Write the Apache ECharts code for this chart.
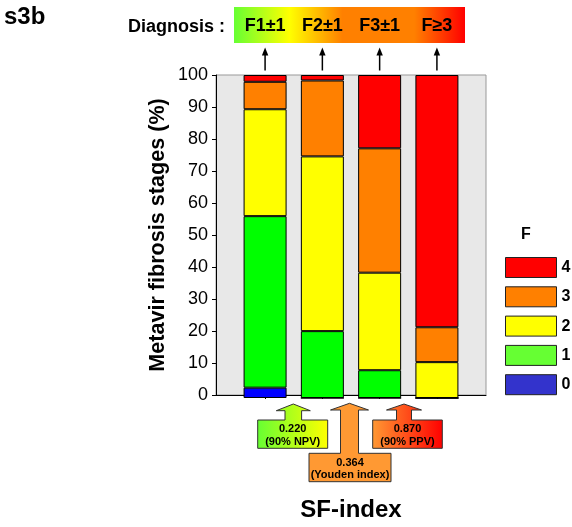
<!DOCTYPE html>
<html><head><meta charset="utf-8">
<script src="https://cdn.jsdelivr.net/npm/echarts@6/dist/echarts.min.js"></script>
<style>html,body{margin:0;padding:0;background:#fff}#c{width:572px;height:527px}</style>
</head><body><div id="c"></div>
<script>
// ---- data ----
const positions = [1, 2, 3, 4];
const diagnosis = ['F1±1', 'F2±1', 'F3±1', 'F≥3'];
const stageNames = ['0', '1', '2', '3', '4'];
const f0 = [3.2, 0, 0, 0];
const f1 = [53.1, 20.7, 8.6, 0];
const f2 = [33.1, 54.1, 30.2, 11.1];
const f3 = [8.5, 23.5, 38.5, 10.8];
const f4 = [2.1, 1.7, 22.7, 78.1];
const cutoffValues = ['0.220', '0.364', '0.870'];
const cutoffNotes = ['(90% NPV)', '(Youden index)', '(90% PPV)'];

const FONT = 'Liberation Sans, Arial, sans-serif';
const stageData = [f0, f1, f2, f3, f4];
const barColors = ['#0000FF', '#00FF00', '#FFFF00', '#FF8000', '#FF0000'];
const legendColors = ['#3333CC', '#66FF33', '#FFFF00', '#FF8000', '#FF0000'];

const chart = echarts.init(document.getElementById('c'), null, {renderer: 'canvas'});

// frame grid (gray panel, axes) spans x 216..486; bar grid is the inner band region
const xMin = 0.143, xMax = 4.857;
const frameLeft = 216, frameWidth = 270;
const unit = frameWidth / (xMax - xMin);
const barLeft = frameLeft + (positions[0] - 0.5 - xMin) * unit;
const barWidthPx = positions.length * unit;

const series = stageNames.map((n, k) => ({
  name: n, type: 'bar', stack: 'total', barWidth: 43,
  xAxisIndex: 1, yAxisIndex: 1,
  data: stageData[k],
  itemStyle: {color: barColors[k], borderColor: '#000', borderWidth: 1},
  emphasis: {disabled: true}, animation: false
}));

chart.setOption({
  animation: false,
  grid: [
    {left: frameLeft, top: 75, width: frameWidth, height: 323, show: true,
     backgroundColor: '#E8E8E8', borderColor: '#999', borderWidth: 1},
    {left: barLeft, top: 75, width: barWidthPx, height: 323}
  ],
  xAxis: [
    {type: 'value', gridIndex: 0, min: xMin, max: xMax,
     name: 'SF-index', nameLocation: 'middle', nameGap: 103,
     nameTextStyle: {fontFamily: FONT, fontWeight: 'bold', fontSize: 24, color: '#000'},
     axisLine: {show: true, lineStyle: {color: '#000', width: 1}},
     axisTick: {show: true, length: 4, customValues: positions, lineStyle: {color: '#000'}},
     axisLabel: {show: false}, splitLine: {show: false}},
    {type: 'category', gridIndex: 1, data: positions.map(String), boundaryGap: true,
     axisLine: {show: false}, axisTick: {show: false}, axisLabel: {show: false}, splitLine: {show: false}}
  ],
  yAxis: [
    {type: 'value', gridIndex: 0, min: 0, max: 100, interval: 10,
     name: 'Metavir fibrosis stages (%)', nameLocation: 'middle', nameGap: 47,
     nameTextStyle: {fontFamily: FONT, fontWeight: 'bold', fontSize: 21.6, color: '#000'},
     axisLine: {show: true, lineStyle: {color: '#000', width: 1}},
     axisTick: {show: true, length: 4, lineStyle: {color: '#000'}},
     axisLabel: {fontFamily: FONT, fontSize: 18, color: '#000', margin: 8},
     splitLine: {show: false}},
    {type: 'value', gridIndex: 1, min: 0, max: 100, show: false, splitLine: {show: false}}
  ],
  legend: {orient: 'vertical', left: 505, top: 257, padding: 0, itemWidth: 51, itemHeight: 20, itemGap: 8.3,
    icon: 'rect', selectedMode: false,
    textStyle: {fontFamily: FONT, fontWeight: 'bold', fontSize: 16, color: '#000'},
    data: [4, 3, 2, 1, 0].map(k => ({name: stageNames[k],
      itemStyle: {color: legendColors[k], borderColor: '#222', borderWidth: 1}}))},
  series: series
});

// ---- decorations ----
const centers = positions.map(p => chart.convertToPixel({xAxisIndex: 0}, p));
const g = [];
g.push({type: 'text', left: 4, top: 5, style: {text: 's3b', font: 'bold 24px ' + FONT, fill: '#000'}});
g.push({type: 'text', x: 225, y: 27, style: {text: 'Diagnosis :', font: 'bold 18px ' + FONT, fill: '#000', align: 'right', verticalAlign: 'middle'}});
g.push({type: 'rect', shape: {x: 234, y: 7, width: 231, height: 36},
  style: {fill: new echarts.graphic.LinearGradient(0, 0, 1, 0, [
    {offset: 0, color: '#66FF33'}, {offset: 0.24, color: '#FFFF00'},
    {offset: 0.47, color: '#FF8000'}, {offset: 0.78, color: '#FF8000'}, {offset: 1, color: '#FF0000'}])}});
centers.forEach((cx, i) => {
  g.push({type: 'text', x: cx, y: 26, style: {text: diagnosis[i], font: 'bold 18px ' + FONT, fill: '#000', align: 'center', verticalAlign: 'middle'}});
  g.push({type: 'line', shape: {x1: cx, y1: 54, x2: cx, y2: 70.5}, style: {stroke: '#000', lineWidth: 1.5}});
  g.push({type: 'polygon', shape: {points: [[cx, 47.5], [cx - 3.2, 55.5], [cx + 3.2, 55.5]]}, style: {fill: '#000'}});
});
g.push({type: 'text', x: 526, y: 235, style: {text: 'F', font: 'bold 16px ' + FONT, fill: '#000', align: 'center', verticalAlign: 'middle'}});

function callout(tip, headHalf, shaftHalf, headBaseY, boxL, boxR, boxT, boxB, fill, i) {
  const pts = [[boxL, boxT], [tip[0] - shaftHalf, boxT], [tip[0] - shaftHalf, headBaseY], [tip[0] - headHalf, headBaseY],
    tip, [tip[0] + headHalf, headBaseY], [tip[0] + shaftHalf, headBaseY], [tip[0] + shaftHalf, boxT],
    [boxR, boxT], [boxR, boxB], [boxL, boxB]];
  g.push({type: 'polygon', shape: {points: pts}, style: {fill: fill, stroke: '#333', lineWidth: 1}});
  const cx = (boxL + boxR) / 2, h = boxB - boxT;
  g.push({type: 'text', x: cx, y: boxT + h * 0.33, style: {text: cutoffValues[i], font: 'bold 11px ' + FONT, fill: '#000', align: 'center', verticalAlign: 'middle'}});
  g.push({type: 'text', x: cx, y: boxT + h * 0.76, style: {text: cutoffNotes[i], font: 'bold 11px ' + FONT, fill: '#000', align: 'center', verticalAlign: 'middle'}});
}
callout([293.3, 404], 17, 8.3, 410.7, 257.7, 327.7, 420, 448.3,
  new echarts.graphic.LinearGradient(0, 0, 1, 0, [{offset: 0, color: '#66FF33'}, {offset: 1, color: '#FFFF00'}]), 0);
callout([349.5, 403.3], 19, 9, 410, 309, 391, 453.3, 481.7, '#FF9933', 1);
callout([404, 404], 17.5, 7.5, 410, 372.7, 442.3, 420, 448.3,
  new echarts.graphic.LinearGradient(0, 0, 1, 0, [{offset: 0, color: '#FF9933'}, {offset: 1, color: '#FF0000'}]), 2);

chart.setOption({graphic: g});
</script></body></html>
